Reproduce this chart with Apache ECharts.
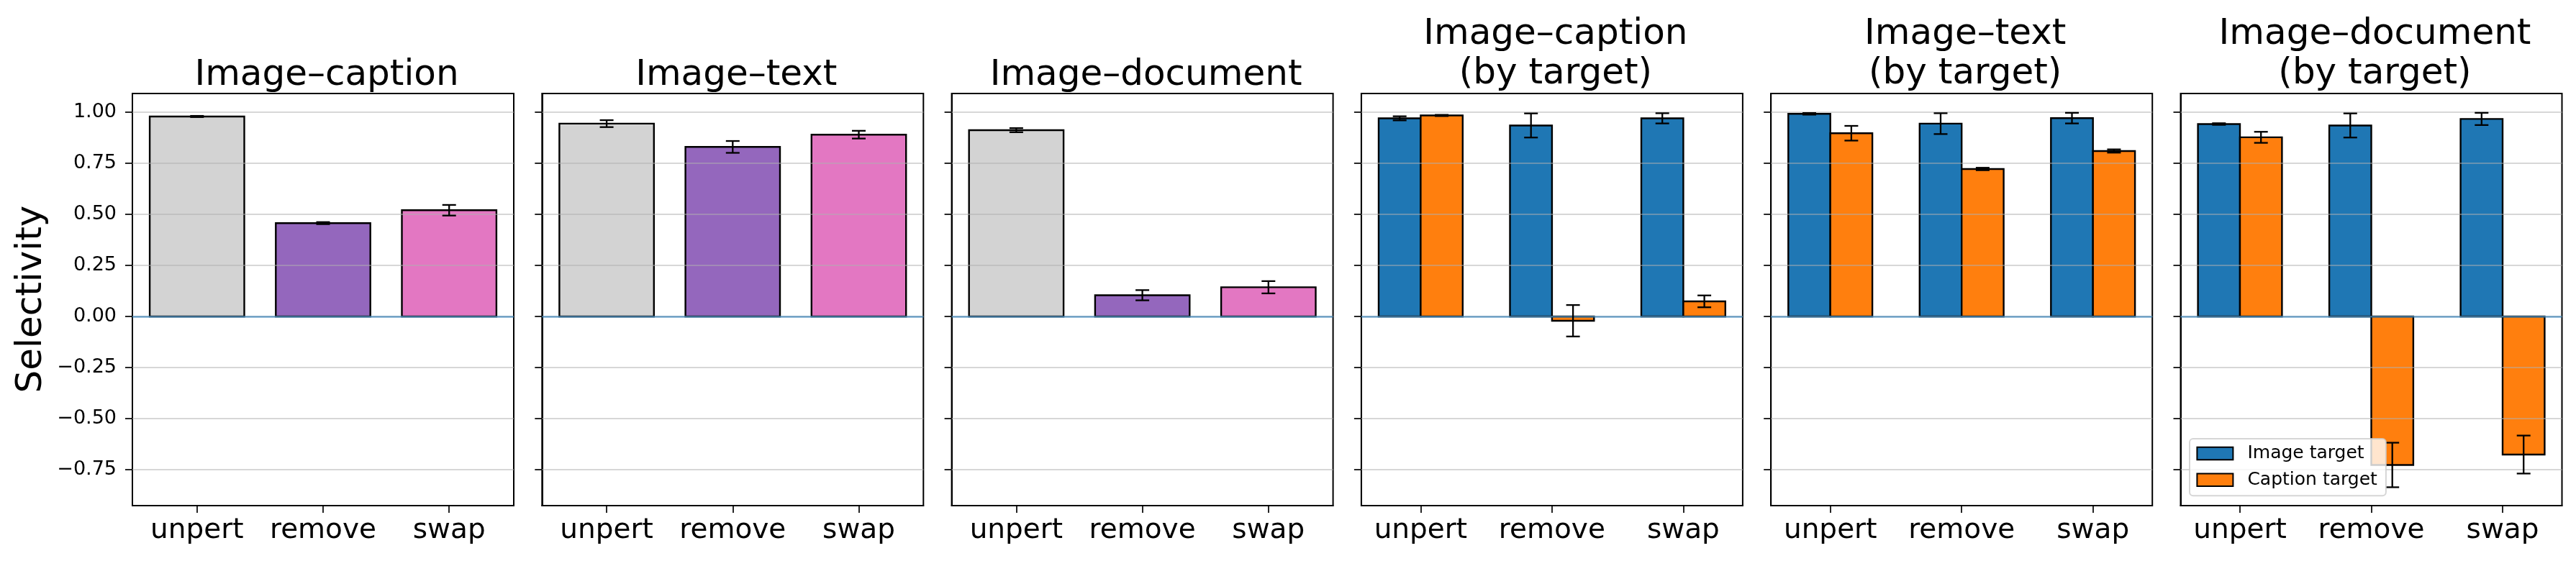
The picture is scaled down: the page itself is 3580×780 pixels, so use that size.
<!DOCTYPE html>
<html><head><meta charset="utf-8">
<script src="https://cdn.jsdelivr.net/npm/echarts@6/dist/echarts.min.js"></script>
<style>html,body{margin:0;padding:0;background:#fff}#c{width:3580px;height:780px}</style>
</head><body><div id="c"></div><script>
// ---------------- data ----------------
const categories = ['unpert', 'remove', 'swap'];
const yTicks = [-0.75, -0.5, -0.25, 0, 0.25, 0.5, 0.75, 1.0];
const panelTitles = ['Image–caption', 'Image–text', 'Image–document',
  'Image–caption\n(by target)', 'Image–text\n(by target)', 'Image–document\n(by target)'];
const seriesNames = ['Image target', 'Caption target'];
const yLabel = 'Selectivity';

// single-bar panels
const icVals = [0.979, 0.457, 0.520];
const icErr  = [0.003, 0.005, 0.026];
const itVals = [0.944, 0.830, 0.890];
const itErr  = [0.017, 0.029, 0.019];
const idVals = [0.912, 0.104, 0.143];
const idErr  = [0.010, 0.025, 0.030];

// by-target panels
const icImg = [0.970, 0.935, 0.970];
const icImgErr = [0.010, 0.059, 0.025];
const icCap = [0.984, -0.021, 0.074];
const icCapErr = [0.003, 0.077, 0.029];
const itImg = [0.992, 0.944, 0.971];
const itImgErr = [0.004, 0.051, 0.026];
const itCap = [0.897, 0.722, 0.810];
const itCapErr = [0.036, 0.006, 0.008];
const idImg = [0.942, 0.935, 0.967];
const idImgErr = [0.004, 0.059, 0.030];
const idCap = [0.877, -0.727, -0.676];
const idCapErr = [0.027, 0.109, 0.093];

// ---------------- styling / layout ----------------
const FONT = 'DejaVu Sans';
const catColors = ['#d3d3d3', '#9467bd', '#e377c2'];
const targetColors = ['#1f77b4', '#ff7f0e'];
const lefts = [184, 753.3, 1322.6, 1891.9, 2461.2, 3030.5];
const W = 530, TOP = 130, H = 573;
const Y_MIN = -0.926, Y_MAX = 1.0915;
const SINGLE_W = 0.75, GROUP_W = 0.32;

const singlePanels = [[icVals, icErr], [itVals, itErr], [idVals, idErr]];
const groupPanels = [
  [[icImg, icImgErr], [icCap, icCapErr]],
  [[itImg, itImgErr], [itCap, itCapErr]],
  [[idImg, idImgErr], [idCap, idCapErr]]
];

function barRenderer(width, colorFn) {
  return function (params, api) {
    const x = api.value(0), v = api.value(1);
    const a = api.coord([x - width / 2, v]);
    const b = api.coord([x + width / 2, 0]);
    return {
      type: 'rect',
      shape: { x: a[0], y: Math.min(a[1], b[1]), width: b[0] - a[0], height: Math.abs(b[1] - a[1]) },
      style: { fill: colorFn(params.dataIndex), stroke: '#000', lineWidth: 2.4 }
    };
  };
}
function errRenderer(params, api) {
  const x = api.value(0), v = api.value(1), e = api.value(2);
  const t = api.coord([x, v + e]), b = api.coord([x, v - e]);
  const cap = 9.5, st = { stroke: '#000', lineWidth: 2.3 };
  return {
    type: 'group', children: [
      { type: 'line', shape: { x1: t[0], y1: t[1], x2: b[0], y2: b[1] }, style: st },
      { type: 'line', shape: { x1: t[0] - cap, y1: t[1], x2: t[0] + cap, y2: t[1] }, style: st },
      { type: 'line', shape: { x1: b[0] - cap, y1: b[1], x2: b[0] + cap, y2: b[1] }, style: st }
    ]
  };
}

const grids = [], xAxes = [], yAxes = [], series = [], titles = [];
const gridLineData = yTicks.map(t => ({ yAxis: t, lineStyle: { color: 'rgba(176,176,176,0.5)', width: 2, type: 'solid' } }));
gridLineData.push({ yAxis: 0, lineStyle: { color: 'rgba(31,119,180,0.6)', width: 2.6, type: 'solid' } });

for (let i = 0; i < 6; i++) {
  const single = i < 3;
  const half = single ? SINGLE_W / 2 : GROUP_W;
  const margin = 0.05 * (2 + 2 * half);
  grids.push({ left: lefts[i], top: TOP, width: W, height: H, show: true, borderColor: '#000', borderWidth: 2, backgroundColor: '#fff' });
  xAxes.push({
    gridIndex: i, type: 'value', min: -half - margin, max: 2 + half + margin,
    splitLine: { show: false },
    axisLine: { show: true, onZero: false, lineStyle: { color: '#000', width: 2 } },
    axisTick: { show: true, customValues: [0, 1, 2], length: 10, lineStyle: { color: '#000', width: 1.7 } },
    axisLabel: { show: true, customValues: [0, 1, 2], formatter: v => categories[Math.round(v)],
      fontSize: 39, fontFamily: FONT, color: '#000', margin: 15 }
  });
  yAxes.push({
    gridIndex: i, type: 'value', min: Y_MIN, max: Y_MAX,
    splitLine: { show: false },
    axisLine: { show: true, onZero: false, lineStyle: { color: '#000', width: 2 } },
    axisTick: { show: true, customValues: yTicks, length: 10, lineStyle: { color: '#000', width: 1.7 } },
    axisLabel: { show: i === 0, customValues: yTicks,
      formatter: v => (v < 0 ? '\u2212' : '') + Math.abs(v).toFixed(2),
      fontSize: 27, fontFamily: FONT, color: '#000', margin: 22 }
  });
  titles.push({
    text: panelTitles[i], left: lefts[i] + W / 2, top: single ? 73 : 16, textAlign: 'center',
    textStyle: { fontSize: 50, fontWeight: 'normal', fontFamily: FONT, color: '#000', lineHeight: 55 }
  });

  if (single) {
    const [vals, errs] = singlePanels[i];
    series.push({
      type: 'custom', name: 'bars' + i, xAxisIndex: i, yAxisIndex: i, z: 2,
      encode: { x: 0, y: 1 },
      data: vals.map((v, k) => [k, v]),
      renderItem: barRenderer(SINGLE_W, idx => catColors[idx]),
      markLine: { silent: true, symbol: ['none', 'none'], z: 5, label: { show: false }, animation: false, data: gridLineData }
    });
    series.push({
      type: 'custom', name: 'err' + i, xAxisIndex: i, yAxisIndex: i, z: 6,
      encode: { x: 0, y: 1 },
      data: vals.map((v, k) => [k, v, errs[k]]),
      renderItem: errRenderer
    });
  } else {
    const grp = groupPanels[i - 3];
    grp.forEach(([vals, errs], s) => {
      const off = (s === 0 ? -1 : 1) * GROUP_W / 2;
      const ser = {
        type: 'custom', name: seriesNames[s], xAxisIndex: i, yAxisIndex: i, z: 2,
        encode: { x: 0, y: 1 },
        itemStyle: { color: targetColors[s], borderColor: '#000', borderWidth: 2 },
        data: vals.map((v, k) => [k + off, v]),
        renderItem: barRenderer(GROUP_W, () => targetColors[s])
      };
      if (s === 0) ser.markLine = { silent: true, symbol: ['none', 'none'], z: 5, label: { show: false }, animation: false, data: gridLineData };
      series.push(ser);
      series.push({
        type: 'custom', name: 'err' + i + '_' + s, xAxisIndex: i, yAxisIndex: i, z: 6,
        encode: { x: 0, y: 1 },
        data: vals.map((v, k) => [k + off, v, errs[k]]),
        renderItem: errRenderer
      });
    });
  }
}

const chart = echarts.init(document.getElementById('c'), null, { renderer: 'canvas', width: 3580, height: 780 });
chart.setOption({
  backgroundColor: '#fff',
  animation: false,
  title: titles,
  grid: grids,
  xAxis: xAxes,
  yAxis: yAxes,
  series: series,
  legend: {
    show: true, data: seriesNames, orient: 'vertical', left: 3043, top: 610,
    itemWidth: 50, itemHeight: 17.6, itemGap: 10.7, icon: 'rect',
    backgroundColor: 'rgba(255,255,255,0.8)', borderColor: 'rgba(204,204,204,0.8)', borderWidth: 2, borderRadius: 5,
    padding: [7.5, 12, 9, 9.4], selectedMode: false, z: 10,
    itemStyle: { borderColor: '#000', borderWidth: 2 },
    textStyle: { fontSize: 25, fontFamily: FONT, color: '#000', lineHeight: 26, padding: [0, 0, 0, 15] }
  },
  graphic: [{
    type: 'text', x: 44, y: 416, rotation: Math.PI / 2,
    style: { text: yLabel, fontSize: 50, fontFamily: FONT, fill: '#000', align: 'center', verticalAlign: 'middle', textAlign: 'center', textVerticalAlign: 'middle' }
  }]
});
</script></body></html>
